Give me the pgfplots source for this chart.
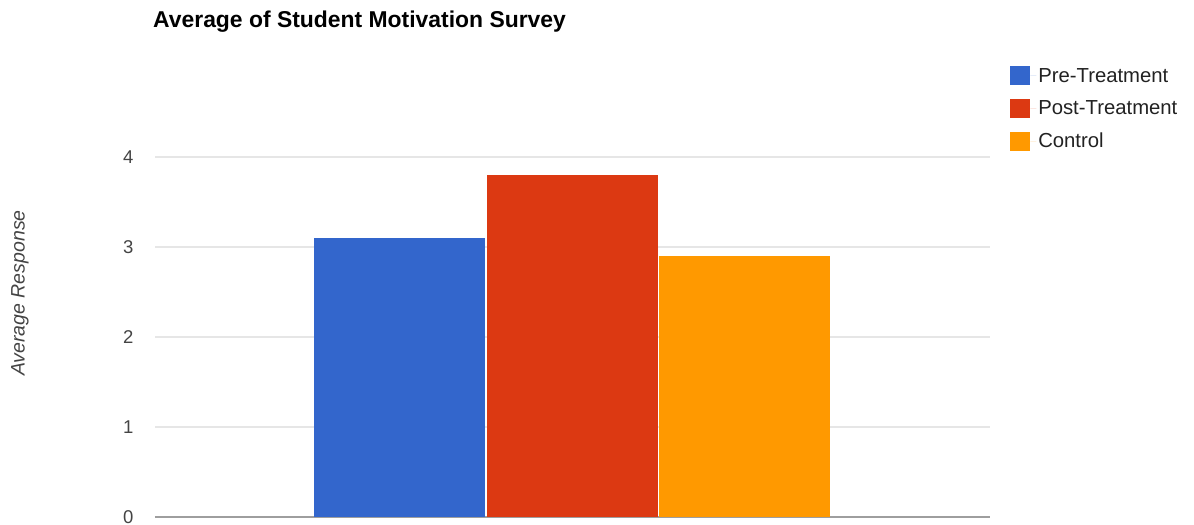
\documentclass[border=0pt]{standalone}
\usepackage{pgfplots}
\pgfplotsset{compat=1.18}
\usepackage{fontspec}
\setmainfont{Liberation Sans}
\definecolor{cblue}{HTML}{3366CC}
\definecolor{cred}{HTML}{DC3912}
\definecolor{corange}{HTML}{FF9900}
\definecolor{gridc}{HTML}{E6E6E6}
\definecolor{basec}{HTML}{9E9E9E}
\definecolor{tickc}{HTML}{444444}
\definecolor{legc}{HTML}{222222}
\begin{document}
\begin{tikzpicture}
\path[use as bounding box] (-155bp,-8bp) rectangle (1039bp,517bp);
\begin{axis}[
  at={(0,0)}, anchor=south west,
  scale only axis,
  width=835bp, height=360bp,
  xmin=0, xmax=835, ymin=0, ymax=4,
  ybar, bar width=171,
  axis y line*=left,
  y axis line style={draw=none},
  axis x line*=bottom,
  x axis line style={-, color=basec, line width=1.6bp},
  xtick=\empty,
  ytick={0,1,2,3,4},
  ymajorgrids,
  major grid style={color=gridc, line width=1.6bp},
  yticklabel style={font=\fontsize{18.5bp}{20bp}\selectfont, text=tickc},
  /pgf/number format/assume math mode=true,
  ytick style={draw=none},
  every y tick label/.append style={xshift=-18bp},
  title={\textbf{Average of Student Motivation Survey}},
  title style={font=\fontsize{22.9bp}{26bp}\selectfont, at={(axis description cs:-0.0024,1.3420)}, anchor=base west, inner sep=0pt, yshift=0pt},
  ylabel={\textit{Average Response}},
  ylabel style={font=\fontsize{19.5bp}{22bp}\selectfont, text=tickc, at={(axis description cs:-0.1617,0.6222)}, anchor=center},
  legend style={at={(axis description cs:1.0240,1.2528)}, anchor=north west, draw=none, fill=none,
    font=\fontsize{20.3bp}{23bp}\selectfont, text=legc, row sep=13bp, inner sep=0pt,
    nodes={inner sep=2bp}},
  legend cell align=left,
  legend image code/.code={\fill[#1] (0bp,-9.5bp) rectangle (20bp,9.5bp); \path (20bp,0bp) -- (26bp,0bp);},
]
\addplot[fill=cblue, draw=none, bar shift=0pt] coordinates {(244.5,3.1)};
\addplot[fill=cred, draw=none, bar shift=0pt] coordinates {(417,3.8)};
\addplot[fill=corange, draw=none, bar shift=0pt] coordinates {(589,2.9)};
\legend{Pre-Treatment,Post-Treatment,Control}
\end{axis}
\end{tikzpicture}
\end{document}
